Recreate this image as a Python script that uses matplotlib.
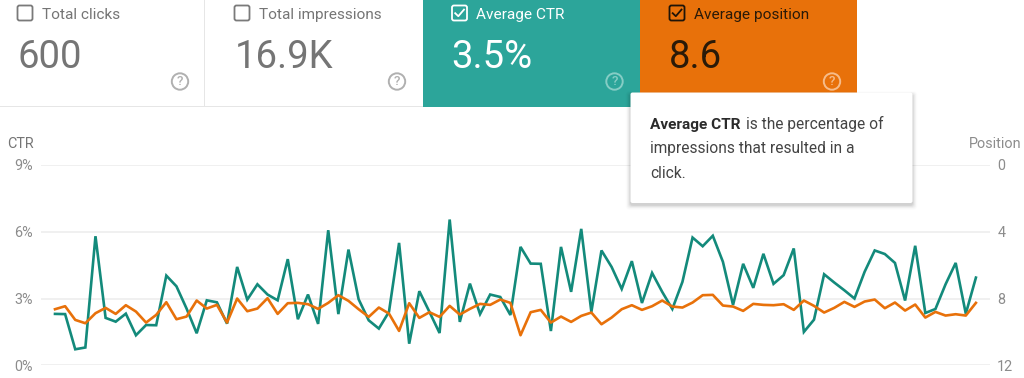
import numpy as np
import matplotlib
matplotlib.use("Agg")
import matplotlib.pyplot as plt
from matplotlib.patches import Rectangle, FancyBboxPatch, Circle

plt.rcParams['font.family'] = ['Roboto', 'DejaVu Sans']

ctr = [2.31, 2.30, 0.72, 0.80, 5.80, 2.13, 1.96, 2.32, 1.35, 1.81, 1.80, 4.03, 3.55, 2.55, 1.44,
       2.92, 2.83, 1.87, 4.42, 2.95, 3.64, 3.18, 2.92, 4.77, 2.07, 3.18, 1.86, 6.07, 2.30,
       5.20, 2.97, 2.02, 1.65, 2.40, 5.50, 0.97, 3.33, 2.40, 1.45, 6.55, 1.95, 3.67, 2.30, 3.18,
       3.07, 2.26, 5.32, 4.57, 4.56, 1.54, 5.32, 3.30, 6.13, 2.40, 5.16, 4.42, 3.43, 4.68, 2.80,
       4.15, 3.30, 2.53, 3.75,
       5.74, 5.35, 5.82, 4.65, 2.71, 4.56, 3.48, 5.01, 3.66, 4.05, 5.25, 1.50, 2.05, 4.09, 3.72,
       3.37, 3.00, 4.20, 5.16, 5.00, 4.60, 2.91, 5.37, 2.35, 2.53, 3.64, 4.60, 2.32, 3.94]
position = [8.64, 8.46, 9.28, 9.48, 8.88, 8.56, 8.92, 8.40, 8.78, 9.44, 8.98, 8.22, 9.24, 9.08, 8.12,
            8.60, 8.38, 9.44, 8.00, 8.76, 8.60, 7.98, 8.92, 8.28, 8.26, 8.34, 8.62, 8.26, 7.80,
            8.14, 8.64, 9.10, 8.54, 8.90, 9.94, 8.28, 9.16, 8.82, 9.10, 8.44, 8.96, 8.62, 8.32, 8.38,
            8.06, 8.26, 10.20, 8.82, 8.68, 9.44, 9.08, 9.40, 9.04, 8.84, 9.54, 9.14, 8.64, 8.40, 8.68,
            8.46, 8.12, 8.48, 8.54,
            8.24, 7.80, 7.78, 8.42, 8.48, 8.74, 8.32, 8.38, 8.40, 8.34, 8.68, 8.12, 8.44, 8.84, 8.56,
            8.20, 8.50, 8.18, 8.06, 8.58, 8.24, 8.72, 8.36, 9.14, 8.80, 9.02, 8.94, 9.02, 8.26]
ctr_ticks = [0, 3, 6, 9]
ctr_labels = ['0%', '3%', '6%', '9%']
pos_ticks = [0, 4, 8, 12]
pos_labels = ['0', '4', '8', '12']
card_titles = ['Total clicks', 'Total impressions', 'Average CTR', 'Average position']
card_values = ['600', '16.9K', '3.5%', '8.6']

W, H = 1024, 378
TEAL_LINE, ORANGE = '#138a7b', '#e8710a'
TEAL_CARD = '#2ca59a'
GREY, GRID = '#757575', '#eeeeee'

fig = plt.figure(figsize=(W / 100, H / 100), dpi=100, facecolor='white')

# chart
L, R, T, B = 41, 990, 165, 365.3
ax = fig.add_axes([L / W, 1 - B / H, (R - L) / W, (B - T) / H])
step = 10.12
x0 = 55
ax.set_xlim((L - x0) / step, (R - x0) / step)
ax.set_ylim(0, 9)
ax.set_yticks(ctr_ticks, ctr_labels)
ax.set_xticks([])
ax.grid(axis='y', color=GRID, lw=1.2)
ax.set_axisbelow(True)
for s in ax.spines.values():
    s.set_visible(False)
ax.tick_params(axis='y', length=0, pad=5.6, labelsize=10.4, labelcolor='#8c8c8c')
x = np.arange(len(ctr))

ax2 = ax.twinx()
ax2.set_ylim(12, 0)
ax2.set_yticks(pos_ticks, pos_labels)
for s in ax2.spines.values():
    s.set_visible(False)
ax2.tick_params(axis='y', length=0, pad=5.2, labelsize=10.4, labelcolor='#8c8c8c')
ax.plot(x, ctr, color=TEAL_LINE, lw=1.9, solid_joinstyle='miter', zorder=3)
ax2.plot(x, position, color=ORANGE, lw=1.9, solid_joinstyle='round', zorder=2)

# interface overlay, in pixel coordinates
ui = fig.add_axes([0, 0, 1, 1], facecolor='none')
ui.set_xlim(0, W)
ui.set_ylim(H, 0)
ui.axis('off')

ui.text(7, 144, 'CTR', color='#757575', fontsize=10.4, va='center')
ui.text(1021.5, 144, 'Position', color='#8c8c8c', fontsize=10.4, va='center', ha='right')

ui.add_patch(Rectangle((0, 106), 423, 1, color='#e6e6e6', lw=0))
ui.add_patch(Rectangle((204, 0), 1, 106, color='#e6e6e6', lw=0))
ui.add_patch(Rectangle((422.5, 0), 217.5, 106.7, color=TEAL_CARD, lw=0))
ui.add_patch(Rectangle((640, 0), 217, 106.7, color=ORANGE, lw=0))

box_x = [17.5, 234.5, 452, 669.5]
title_x = [41.5, 259, 476, 693.5]
value_x = [17, 235, 451.5, 669]
help_x = [180, 397, 614.5, 832]
title_c = [GREY, GREY, 'white', '#2a1a08']
value_c = [GREY, GREY, 'white', '#2a1a08']
help_c = ['#b0b0b0', '#b0b0b0', '#86cdc5', '#f6bc8a']
checked = [False, False, True, True]
box_c = ['#7a7a7a', '#7a7a7a', 'white', '#1f1408']

for i in range(4):
    bx = box_x[i]
    ui.add_patch(FancyBboxPatch((bx, 5.5), 15, 15, boxstyle='round,pad=0,rounding_size=2',
                                fc='none', ec=box_c[i], lw=1.3))
    if checked[i]:
        ui.plot([bx + 3.2, bx + 6.3, bx + 12], [13.2, 16.2, 9.6], color=box_c[i], lw=1.3)
    ui.text(title_x[i], 18.6, card_titles[i], color=title_c[i], fontsize=11.1, va='baseline')
    ui.text(value_x[i], 68, card_values[i], color=value_c[i], fontsize=27.5, va='baseline')
    ui.add_patch(Circle((help_x[i], 81.5), 8.2, fc='none', ec=help_c[i], lw=1.4))
    ui.text(help_x[i], 81.7, '?', color=help_c[i], fontsize=9.5, ha='center', va='center',
            fontweight='medium')

# tooltip with a soft shadow
tx, ty, tw, th = 630.5, 92.5, 282, 110.5
for k, a in zip([8, 7, 6, 5, 4, 3, 2, 1], [0.008, 0.010, 0.014, 0.018, 0.024, 0.030, 0.036, 0.04]):
    ui.add_patch(FancyBboxPatch((tx - k * 0.6, ty + 2 - k * 0.4), tw + k * 1.2, th + k,
                                boxstyle='round,pad=0,rounding_size=3', fc='black', ec='none', alpha=a))
ui.add_patch(FancyBboxPatch((tx, ty), tw, th, boxstyle='round,pad=0,rounding_size=2', fc='white', ec='none'))
ui.text(650, 129, 'Average CTR', color='#2b2b2b', fontsize=11.1, fontweight='bold', va='baseline')
ui.text(745.5, 129, 'is the percentage of', color='#444444', fontsize=11.2, va='baseline')
ui.text(650, 153, 'impressions that resulted in a', color='#444444', fontsize=11.2, va='baseline')
ui.text(650, 177.5, 'click.', color='#444444', fontsize=11.2, va='baseline')

fig.savefig('out.png', dpi=100)
